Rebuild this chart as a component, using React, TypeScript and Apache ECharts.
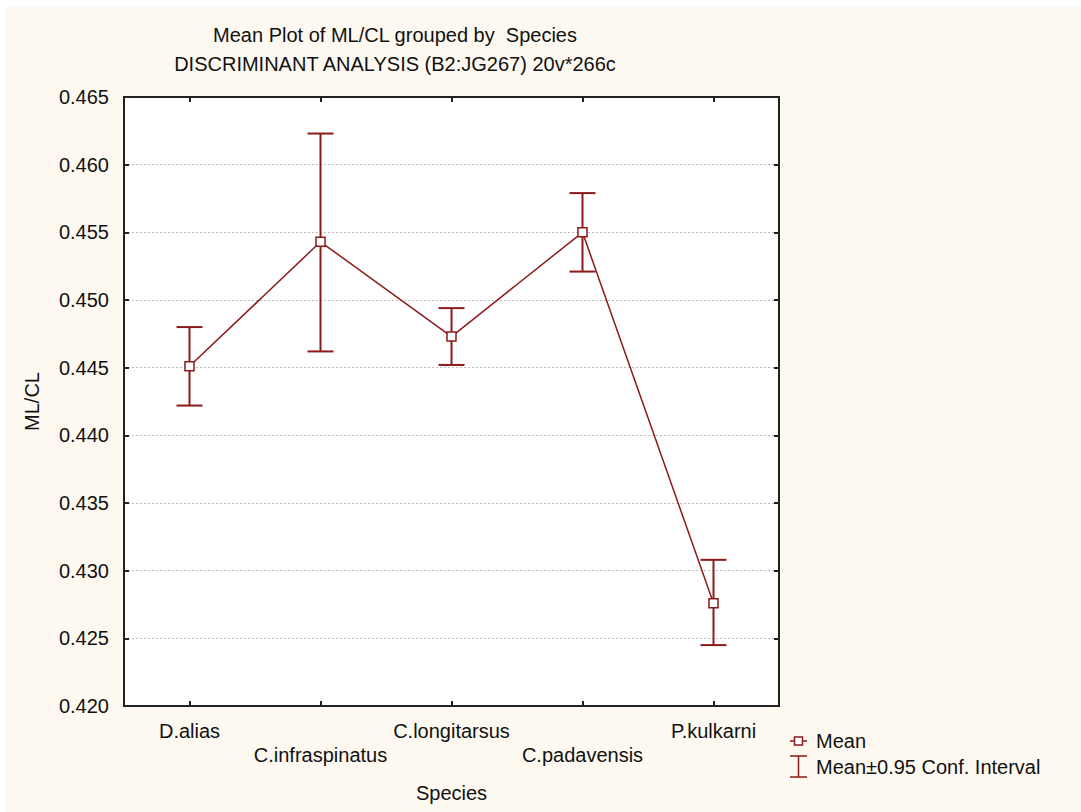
import React, { useEffect, useRef } from "react";
import * as echarts from "echarts";

const categories = ["D.alias", "C.infraspinatus", "C.longitarsus", "C.padavensis", "P.kulkarni"];
const means = [0.4451, 0.4543, 0.4473, 0.455, 0.4276];
const lower = [0.4422, 0.4462, 0.4452, 0.4521, 0.4245];
const upper = [0.448, 0.4623, 0.4494, 0.4579, 0.4308];
const yTicks = { min: 0.42, max: 0.465, interval: 0.005 };

const RED = "#8b1a1a";
const FONT = "Liberation Sans";
const FS = 20;

export default function App() {
  const ref = useRef<HTMLDivElement>(null);
  useEffect(() => {
    if (!ref.current) return;
    const chart = echarts.init(ref.current, undefined, { renderer: "svg" });
    const errData = categories.map((_, i) => [i, lower[i], upper[i]]);
    chart.setOption({
      animation: false,
      backgroundColor: "#fdf9f0",
      textStyle: { fontFamily: FONT, color: "#111" },
      title: [
        {
          text: "Mean Plot of ML/CL grouped by  Species",
          left: 385,
          top: 13,
          textAlign: "center",
          textStyle: { fontFamily: FONT, fontSize: FS, fontWeight: "normal", color: "#111" },
        },
        {
          text: "DISCRIMINANT ANALYSIS (B2:JG267) 20v*266c",
          left: 385,
          top: 42,
          textAlign: "center",
          textStyle: { fontFamily: FONT, fontSize: FS, fontWeight: "normal", color: "#111" },
        },
      ],
      grid: {
        left: 119,
        top: 90,
        right: 302,
        bottom: 106,
        show: true,
        backgroundColor: "#ffffff",
        borderColor: "#222",
        borderWidth: 2,
      },
      xAxis: [
        {
          type: "category",
          data: categories,
          boundaryGap: true,
          position: "bottom",
          name: "Species",
          nameLocation: "middle",
          nameGap: 77,
          nameTextStyle: { fontFamily: FONT, fontSize: FS, color: "#111" },
          axisLine: { show: true, lineStyle: { color: "#222", width: 2 } },
          axisTick: { show: true, inside: true, alignWithLabel: true, length: 5, lineStyle: { color: "#222", width: 2 } },
          axisLabel: {
            fontFamily: FONT,
            fontSize: FS,
            color: "#111",
            margin: 13,
            lineHeight: 24,
            interval: 0,
            formatter: (v: string, i: number) => (i % 2 === 1 ? "\n" + v : v),
          },
          splitLine: { show: false },
        },
        {
          type: "category",
          data: categories,
          boundaryGap: true,
          position: "top",
          axisLine: { show: true, lineStyle: { color: "#222", width: 2 } },
          axisTick: { show: true, inside: true, alignWithLabel: true, length: 5, lineStyle: { color: "#222", width: 2 } },
          axisLabel: { show: false },
          splitLine: { show: false },
        },
      ],
      yAxis: [
        {
          type: "value",
          min: yTicks.min,
          max: yTicks.max,
          interval: yTicks.interval,
          position: "left",
          name: "ML/CL",
          nameLocation: "middle",
          nameGap: 82,
          nameTextStyle: { fontFamily: FONT, fontSize: FS, color: "#111" },
          axisLine: { show: true, lineStyle: { color: "#222", width: 2 } },
          axisTick: { show: true, inside: true, length: 5, lineStyle: { color: "#222", width: 2 } },
          axisLabel: {
            fontFamily: FONT,
            fontSize: FS,
            color: "#111",
            margin: 15,
            formatter: (v: number) => v.toFixed(3),
          },
          splitLine: { show: true, lineStyle: { color: "#bdbdbd", type: [2, 2], width: 1 } },
        },
        {
          type: "value",
          min: yTicks.min,
          max: yTicks.max,
          interval: yTicks.interval,
          position: "right",
          axisLine: { show: true, lineStyle: { color: "#222", width: 2 } },
          axisTick: { show: true, inside: true, length: 5, lineStyle: { color: "#222", width: 2 } },
          axisLabel: { show: false },
          splitLine: { show: false },
        },
      ],
      series: [
        {
          type: "custom",
          name: "Mean±0.95 Conf. Interval",
          xAxisIndex: 0,
          yAxisIndex: 0,
          data: errData,
          z: 2,
          renderItem: (params: any, api: any) => {
            const x = api.value(0);
            const lo = api.coord([x, api.value(1)]);
            const hi = api.coord([x, api.value(2)]);
            const hw = 13;
            const style = { stroke: RED, lineWidth: 2 };
            return {
              type: "group",
              children: [
                { type: "line", shape: { x1: lo[0], y1: lo[1], x2: hi[0], y2: hi[1] }, style },
                { type: "line", shape: { x1: hi[0] - hw, y1: hi[1], x2: hi[0] + hw, y2: hi[1] }, style },
                { type: "line", shape: { x1: lo[0] - hw, y1: lo[1], x2: lo[0] + hw, y2: lo[1] }, style },
              ],
            };
          },
        },
        {
          type: "line",
          name: "Mean",
          xAxisIndex: 0,
          yAxisIndex: 0,
          data: means,
          z: 3,
          symbol: "rect",
          symbolSize: 9,
          showAllSymbol: true,
          lineStyle: { color: RED, width: 1.5 },
          itemStyle: { color: "#ffffff", borderColor: RED, borderWidth: 1.5 },
        },
      ],
      graphic: [
        { type: "line", shape: { x1: 785, y1: 734, x2: 802, y2: 734 }, style: { stroke: RED, lineWidth: 1.5 } },
        { type: "rect", shape: { x: 789.5, y: 730, width: 8, height: 8 }, style: { fill: "#fff", stroke: RED, lineWidth: 1.5 } },
        { type: "text", x: 811, y: 734, style: { text: "Mean", font: `${FS}px "${FONT}"`, fill: "#111", verticalAlign: "middle" } },
        { type: "line", shape: { x1: 793.5, y1: 749, x2: 793.5, y2: 770 }, style: { stroke: RED, lineWidth: 1.5 } },
        { type: "line", shape: { x1: 785, y1: 749, x2: 802, y2: 749 }, style: { stroke: RED, lineWidth: 1.5 } },
        { type: "line", shape: { x1: 785, y1: 770, x2: 802, y2: 770 }, style: { stroke: RED, lineWidth: 1.5 } },
        {
          type: "text",
          x: 811,
          y: 760,
          style: { text: "Mean±0.95 Conf. Interval", font: `${FS}px "${FONT}"`, fill: "#111", verticalAlign: "middle" },
        },
      ],
    });
    return () => chart.dispose();
  }, []);
  return (
    <div
      ref={ref}
      style={{ position: "fixed", left: 5, top: 7, width: 1076, height: 805 }}
    />
  );
}
